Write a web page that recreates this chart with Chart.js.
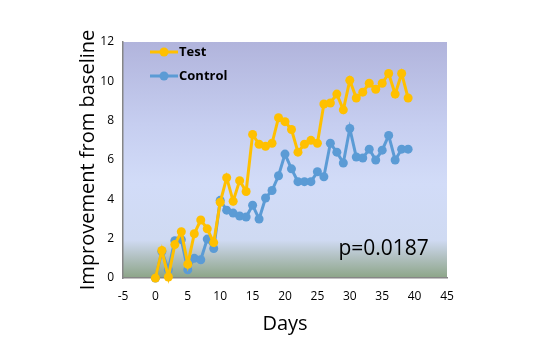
<!DOCTYPE html>
<html>
<head>
<meta charset="utf-8">
<script src="https://cdn.jsdelivr.net/npm/chart.js@4.4.1/dist/chart.umd.min.js"></script>
<style>
html,body{margin:0;padding:0;background:#fff;}
#wrap{width:540px;height:357px;position:relative;}
</style>
</head>
<body>
<div id="wrap"><canvas id="c"></canvas></div>
<script>
const days = [0,1,2,3,4,5,6,7,8,9,10,11,12,13,14,15,16,17,18,19,20,21,22,23,24,25,26,27,28,29,30,31,32,33,34,35,36,37,38,39];
const testValues = [0,1.4,0.05,1.7,2.35,0.7,2.25,2.95,2.5,1.8,3.85,5.1,3.9,4.95,4.4,7.3,6.8,6.7,6.85,8.15,7.95,7.55,6.4,6.8,7.0,6.85,8.85,8.9,9.35,8.55,10.05,9.15,9.45,9.9,9.6,9.9,10.4,9.35,10.4,9.15];
const controlValues = [0,1.35,0.42,1.9,1.95,0.42,1.0,0.93,1.98,1.5,3.95,3.45,3.3,3.15,3.1,3.7,3.0,4.07,4.45,5.2,6.3,5.55,4.9,4.9,4.9,5.4,5.15,6.85,6.4,5.85,7.6,6.15,6.1,6.55,6.0,6.5,7.25,6.0,6.55,6.55];
const seriesNames = ["Test","Control"];
const annotationText = "p=0.0187";
const xTitle = "Days";
const yTitle = "Improvement from baseline";

const FONT = "'Open Sans', 'Noto Sans', sans-serif";

const bgPlugin = {
  id: 'bg',
  beforeDraw(chart) {
    const {ctx, chartArea: a} = chart;
    const g = ctx.createLinearGradient(0, a.top, 0, a.bottom);
    g.addColorStop(0, '#b1b4dc');
    g.addColorStop(0.35, '#c6cef0');
    g.addColorStop(0.6, '#d2dcf8');
    g.addColorStop(0.84, '#cfdaf2');
    g.addColorStop(0.91, '#b2c1c2');
    g.addColorStop(1, '#8ca587');
    ctx.save();
    ctx.fillStyle = g;
    ctx.fillRect(a.left, a.top, a.right - a.left, a.bottom - a.top);
    ctx.restore();
  }
};

const legendPlugin = {
  id: 'inlegend',
  afterDatasetsDraw(chart) {
    const {ctx, chartArea: a} = chart;
    ctx.save();
    chart.data.datasets.forEach((ds, i) => {
      const y = a.top + 10 + i * 24;
      const x0 = a.left + 27;
      ctx.strokeStyle = ds.borderColor;
      ctx.lineWidth = 3;
      ctx.beginPath();
      ctx.moveTo(x0, y);
      ctx.lineTo(x0 + 28, y);
      ctx.stroke();
      ctx.fillStyle = ds.backgroundColor;
      ctx.beginPath();
      ctx.arc(x0 + 14, y, 4.5, 0, Math.PI * 2);
      ctx.fill();
      ctx.fillStyle = '#000';
      ctx.font = "bold 13px " + FONT;
      ctx.textBaseline = 'middle';
      ctx.fillText(ds.label, x0 + 29, y);
    });
    ctx.restore();
  }
};

const annotPlugin = {
  id: 'annot',
  afterDatasetsDraw(chart) {
    const {ctx, scales} = chart;
    ctx.save();
    ctx.fillStyle = '#000';
    ctx.font = "21px " + FONT;
    ctx.textAlign = 'right';
    ctx.textBaseline = 'middle';
    ctx.fillText(annotationText, scales.x.getPixelForValue(42.2), scales.y.getPixelForValue(1.45));
    ctx.restore();
  }
};

const mk = (label, vals, color) => ({
  label,
  data: days.map((d, i) => ({x: d, y: vals[i]})),
  borderColor: color,
  backgroundColor: color,
  borderWidth: 3,
  pointRadius: 4.5,
  pointHoverRadius: 4.5,
  pointBorderWidth: 0,
  tension: 0,
  clip: false
});

new Chart(document.getElementById('c'), {
  type: 'line',
  data: {
    datasets: [
      mk(seriesNames[0], testValues, '#ffc000'),
      mk(seriesNames[1], controlValues, '#5b9bd5')
    ]
  },
  options: {
    responsive: true,
    maintainAspectRatio: false,
    animation: false,
    devicePixelRatio: 1,
    layout: {padding: {left: 72, right: 93, top: 42, bottom: 17}},
    plugins: {legend: {display: false}, tooltip: {enabled: false}},
    scales: {
      x: {
        type: 'linear', min: -5, max: 45,
        ticks: {stepSize: 5, color: '#000', font: {family: FONT, size: 12}, padding: 6, maxRotation: 0},
        grid: {display: false, drawOnChartArea: false, drawTicks: true, tickLength: 5, color: '#868686'},
        border: {display: true, color: '#868686', width: 1.5},
        title: {display: true, text: xTitle, color: '#000', font: {family: FONT, size: 20}, padding: {top: 6}},
        afterFit(s) { s.height = 62; }
      },
      y: {
        min: 0, max: 12,
        ticks: {stepSize: 2, color: '#000', font: {family: FONT, size: 12}, padding: 4},
        grid: {display: false, drawOnChartArea: false, drawTicks: true, tickLength: 5, color: '#868686'},
        border: {display: true, color: '#868686', width: 1.5},
        title: {display: true, text: yTitle, color: '#000', font: {family: FONT, size: 20}, padding: {bottom: 4}},
        afterFit(s) { s.width = 51; }
      }
    }
  },
  plugins: [bgPlugin, legendPlugin, annotPlugin]
});
</script>
</body>
</html>
